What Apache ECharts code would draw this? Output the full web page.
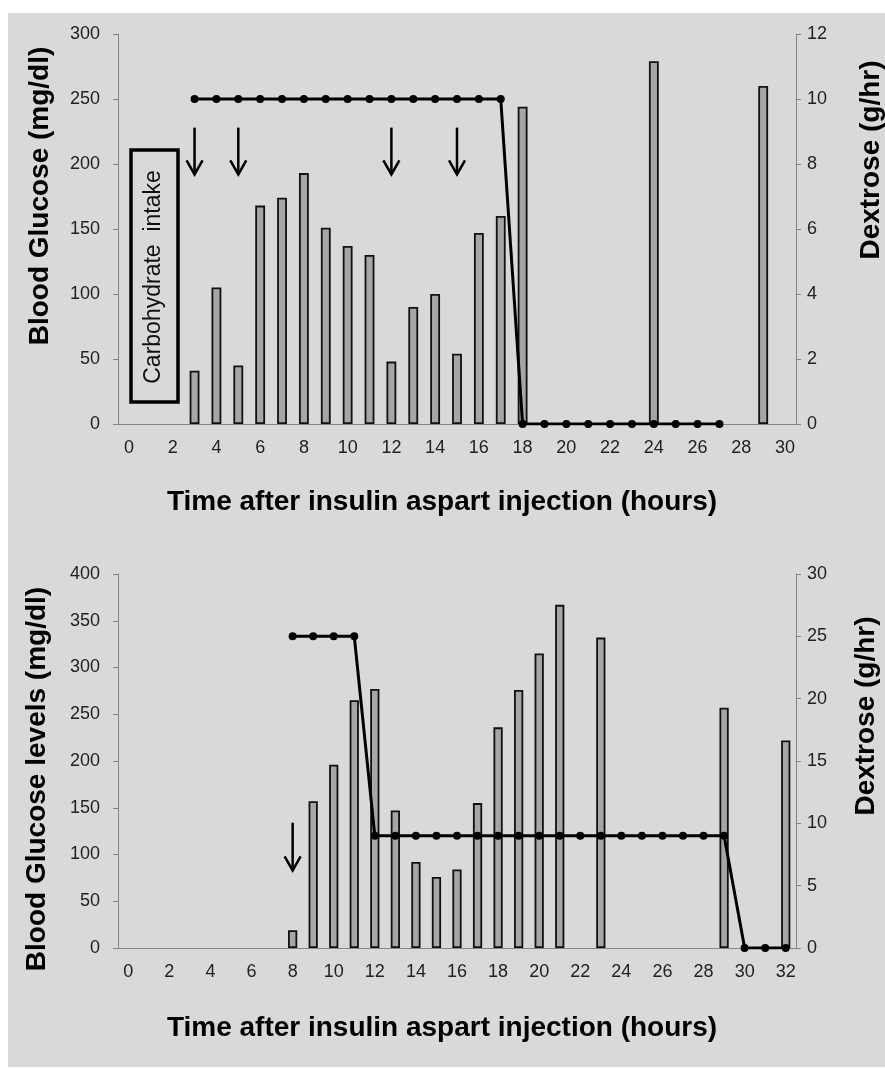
<!DOCTYPE html>
<html>
<head>
<meta charset="utf-8">
<script src="https://cdn.jsdelivr.net/npm/echarts@6/dist/echarts.min.js"></script>
<style>
  body { margin: 0; background: #fff; }
  #bg { position: absolute; left: 8px; top: 13px; width: 877px; height: 1054px; background: #d9d9d9; }
  #main { position: absolute; left: 0; top: 0; width: 885px; height: 1068px; }
</style>
</head>
<body>
<div id="bg"></div>
<div id="main"></div>
<script>
// top panel: hours 0..30
var hoursTop = ['0','1','2','3','4','5','6','7','8','9','10','11','12','13','14','15','16','17','18','19','20','21','22','23','24','25','26','27','28','29','30'];
var glucoseTop = [null, null, null, 41, 105, 45, 168, 174, 193, 151, 137, 130, 48, 90, 100, 54, 147, 160, 244,
	null, null, null, null, null, 279, null, null, null, null, 260, null];
var dextroseTop = [null, null, null, 10, 10, 10, 10, 10, 10, 10, 10, 10, 10, 10, 10, 10, 10, 10,
	0, 0, 0, 0, 0, 0, 0, 0, 0, 0, null, null, null];
// arrows: [hour, from, to] in mg/dl
var arrowsTop = [[3, 228, 192], [5, 228, 192], [12, 228, 192], [15, 228, 192]];

// bottom panel: hours 0..32
var hoursBottom = ['0','1','2','3','4','5','6','7','8','9','10','11','12','13','14','15','16','17','18','19','20','21','22','23','24','25','26','27','28','29','30','31','32'];
var glucoseBottom = [null, null, null, null, null, null, null, null, 19, 157, 196, 265, 277, 147, 92, 76, 84, 155, 236, 276, 315, 367,
	null, 332, null, null, null, null, null, 257, null, null, 222];
var dextroseBottom = [null, null, null, null, null, null, null, null, 25, 25, 25, 25,
	9, 9, 9, 9, 9, 9, 9, 9, 9, 9, 9, 9, 9, 9, 9, 9, 9, 9, 0, 0, 0];
var arrowsBottom = [[8, 134, 83]];

var font = 'Liberation Sans, Arial, sans-serif';
var axisGray = '#858585';

function xAxisOf(idx, cats) {
	return {
		type: 'category', gridIndex: idx, data: cats, boundaryGap: true,
		axisLine: { lineStyle: { color: axisGray } },
		axisTick: { interval: 0, length: 5, lineStyle: { color: axisGray } },
		axisLabel: { interval: 1, margin: 15, fontSize: 18, color: '#222', fontFamily: font }
	};
}
function yAxisOf(idx, max, step, right) {
	return {
		type: 'value', gridIndex: idx, min: 0, max: max, interval: step,
		position: right ? 'right' : 'left',
		splitLine: { show: false },
		axisLine: { show: true, lineStyle: { color: axisGray } },
		axisTick: { show: true, length: 5, lineStyle: { color: axisGray } },
		axisLabel: { margin: right ? 11 : 18, fontSize: 18, color: '#222', fontFamily: font }
	};
}

function renderArrow(params, api) {
	var a = api.coord([api.value(0), api.value(1)]);
	var b = api.coord([api.value(0), api.value(2)]);
	return {
		type: 'group',
		children: [
			{ type: 'line', shape: { x1: a[0], y1: a[1], x2: b[0], y2: b[1] }, style: { stroke: '#000', lineWidth: 2.5 } },
			{ type: 'polyline', shape: { points: [[b[0] - 8, b[1] - 14], [b[0], b[1]], [b[0] + 8, b[1] - 14]] },
				style: { stroke: '#000', lineWidth: 2.5, fill: null } }
		]
	};
}

function barSeries(xi, yi, data) {
	return {
		type: 'bar', xAxisIndex: xi, yAxisIndex: yi, data: data, barWidth: '45%',
		itemStyle: { color: '#a6a6a6', borderColor: '#111', borderWidth: 1.8 }
	};
}
function lineSeries(xi, yi, data) {
	return {
		type: 'line', xAxisIndex: xi, yAxisIndex: yi, data: data,
		symbol: 'circle', symbolSize: 8, z: 5,
		lineStyle: { color: '#000', width: 3 }, itemStyle: { color: '#000' }
	};
}

function title(text, x, y, rot) {
	return {
		type: 'text', x: x, y: y, rotation: rot ? Math.PI / 2 : 0,
		style: { text: text, font: 'bold 28px ' + font, fill: '#000', align: 'center', verticalAlign: 'middle' }
	};
}

var myChart = echarts.init(document.getElementById('main'));
var option = {
	animation: false,
	grid: [
		{ left: 118, right: 89, top: 34, height: 390 },
		{ left: 118, right: 89, top: 574, height: 374 }
	],
	xAxis: [xAxisOf(0, hoursTop), xAxisOf(1, hoursBottom)],
	yAxis: [
		yAxisOf(0, 300, 50, false),
		yAxisOf(0, 12, 2, true),
		yAxisOf(1, 400, 50, false),
		yAxisOf(1, 30, 5, true)
	],
	series: [
		barSeries(0, 0, glucoseTop),
		lineSeries(0, 1, dextroseTop),
		{ type: 'custom', xAxisIndex: 0, yAxisIndex: 0, data: arrowsTop, renderItem: renderArrow, encode: { x: 0, y: [1, 2] }, z: 6 },
		barSeries(1, 2, glucoseBottom),
		lineSeries(1, 3, dextroseBottom),
		{ type: 'custom', xAxisIndex: 1, yAxisIndex: 2, data: arrowsBottom, renderItem: renderArrow, encode: { x: 0, y: [1, 2] }, z: 6 }
	],
	graphic: [
		title('Blood Glucose (mg/dl)', 40, 196, true),
		title('Dextrose (g/hr)', 871, 160, true),
		title('Time after insulin aspart injection (hours)', 442, 502, false),
		title('Blood Glucose levels (mg/dl)', 37, 779, true),
		title('Dextrose (g/hr)', 866, 716, true),
		title('Time after insulin aspart injection (hours)', 442, 1028, false),
		{ type: 'rect', shape: { x: 131, y: 150, width: 47, height: 252 }, style: { fill: null, stroke: '#000', lineWidth: 3.5 } },
		{ type: 'text', x: 154, y: 277, rotation: Math.PI / 2,
			style: { text: 'Carbohydrate  intake', font: '23px ' + font, fill: '#111', align: 'center', verticalAlign: 'middle' } }
	]
};
myChart.setOption(option);
</script>
</body>
</html>
